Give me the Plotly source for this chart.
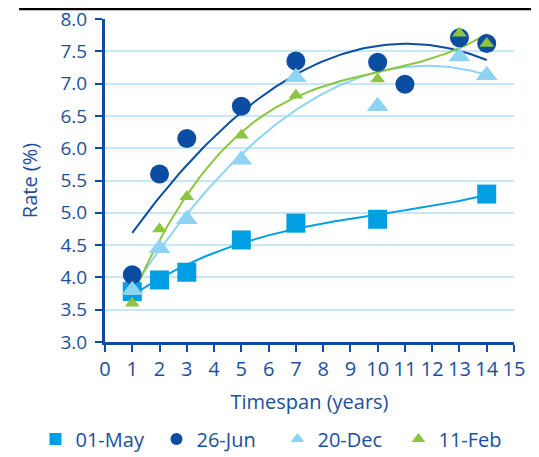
import numpy as np
import plotly.graph_objects as go

# Data
may_x = [1, 2, 3, 5, 7, 10, 14]
may_y = [3.78, 3.96, 4.08, 4.58, 4.84, 4.90, 5.29]
jun_x = [1, 2, 3, 5, 7, 10, 11, 13, 14]
jun_y = [4.04, 5.60, 6.15, 6.65, 7.35, 7.33, 6.99, 7.71, 7.62]
dec_x = [1, 2, 3, 5, 7, 10, 13, 14]
dec_y = [3.80, 4.45, 4.90, 5.82, 7.10, 6.65, 7.42, 7.13]
feb_x = [1, 2, 3, 5, 7, 10, 13, 14]
feb_y = [3.60, 4.75, 5.25, 6.20, 6.82, 7.07, 7.78, 7.62]

x_ticks = list(range(0, 16))
y_ticks = [3.0, 3.5, 4.0, 4.5, 5.0, 5.5, 6.0, 6.5, 7.0, 7.5, 8.0]

# name, x, y, colour, symbol, marker size, trend order
series = [
    ("01-May", may_x, may_y, "#009FE3", "square", 19, 3),
    ("26-Jun", jun_x, jun_y, "#0A4DA2", "circle", 19, 2),
    ("20-Dec", dec_x, dec_y, "#8ED3F3", "triangle-up", 19, 2),
    ("11-Feb", feb_x, feb_y, "#8CC63F", "triangle-up", 13, 3),
]

TXT = "#1B4F9C"
FS = 20
fig = go.Figure()

for name, xs, ys, col, sym, sz, order in series:
    coef = np.polyfit(xs, ys, order)
    tx = np.linspace(min(xs), max(xs), 100)
    fig.add_trace(go.Scatter(x=tx, y=np.polyval(coef, tx), mode="lines",
                             line=dict(color=col, width=2), showlegend=False,
                             hoverinfo="skip"))

for name, xs, ys, col, sym, sz, order in series:
    fig.add_trace(go.Scatter(x=xs, y=ys, mode="markers", name=name,
                             marker=dict(symbol=sym, size=sz, color=col,
                                         line=dict(width=0))))

fig.update_layout(
    width=531, height=449,
    margin=dict(l=97, r=25, t=11, b=115, autoexpand=False),
    paper_bgcolor="white", plot_bgcolor="white",
    font=dict(family="Open Sans, Noto Sans, sans-serif", color=TXT, size=FS),
    showlegend=True,
    legend=dict(orientation="h", x=-0.17, xanchor="left", y=-0.30, yanchor="middle",
                font=dict(size=FS, color=TXT), itemsizing="constant",
                itemwidth=30, traceorder="normal", tracegroupgap=0,
                entrywidth=76, entrywidthmode="pixels"),
    xaxis=dict(range=[0, 15], tickvals=x_ticks, showgrid=False, zeroline=False,
               showline=True, linecolor="#0A4DA2", linewidth=3,
               ticks="outside", tickcolor="#0A4DA2", ticklen=7, tickwidth=2,
               title=dict(text="Timespan (years)", font=dict(size=FS, color=TXT), standoff=14),
               tickfont=dict(size=FS, color=TXT), automargin=False,
               ticklabeloverflow="allow"),
    yaxis=dict(range=[3.0, 8.0], tickvals=y_ticks, tickformat=".1f",
               showgrid=True, gridcolor="#C8E7F6", gridwidth=2, zeroline=False,
               showline=True, linecolor="#0A4DA2", linewidth=3,
               ticks="outside", tickcolor="#0A4DA2", ticklen=7, tickwidth=2,
               ticklabelstandoff=4, ticklabeloverflow="allow",
               title=dict(text="Rate (%)", font=dict(size=FS, color=TXT), standoff=18),
               tickfont=dict(size=FS - 1, color=TXT), automargin=False),
    shapes=[dict(type="line", xref="paper", yref="paper", x0=-0.21, x1=1.07,
                 y0=1 + 10 / 323, y1=1 + 10 / 323, line=dict(color="black", width=2.5))],
)

fig.write_html("out.html")
